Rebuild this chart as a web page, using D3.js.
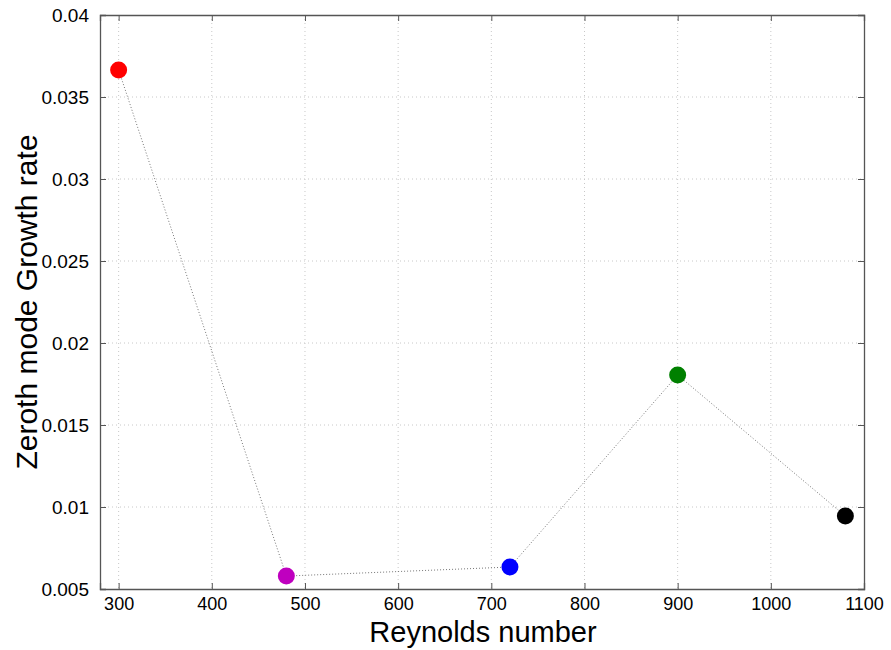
<!DOCTYPE html>
<html><head><meta charset="utf-8">
<script src="https://cdn.jsdelivr.net/npm/d3@7"></script>
<style>body{margin:0;background:#fff}svg{display:block}text{font-family:"Liberation Sans",Arial,sans-serif;fill:#000}</style>
</head><body><svg id="c" width="891" height="650"></svg>
<script>
const reynolds = [300, 480, 720, 900, 1080];
const growth = [0.03665, 0.00579, 0.00634, 0.01805, 0.00945];
const colors = ["#ff0000", "#bf00bf", "#0000ff", "#008000", "#000000"];
const xTicks = [300, 400, 500, 600, 700, 800, 900, 1000, 1100];
const yTicks = [0.005, 0.01, 0.015, 0.02, 0.025, 0.03, 0.035, 0.04];
const yTickLabels = ["0.005", "0.01", "0.015", "0.02", "0.025", "0.03", "0.035", "0.04"];

const svg = d3.select("#c");
const L = 100, R = 864, T = 15, B = 589;
const x = d3.scaleLinear().domain([280, 1100]).range([L, R]);
const y = d3.scaleLinear().domain([0.005, 0.04]).range([B, T]);

// grid
const g = svg.append("g");
g.selectAll(".vg").data(xTicks.filter(d => d < 1100)).enter().append("line")
  .attr("x1", d => x(d)).attr("x2", d => x(d)).attr("y1", T).attr("y2", B)
  .attr("stroke", "#c8c8c8").attr("stroke-width", 1).attr("stroke-dasharray", "1,3");
g.selectAll(".hg").data(yTicks.filter(d => d > 0.005 && d < 0.04)).enter().append("line")
  .attr("y1", d => y(d)).attr("y2", d => y(d)).attr("x1", L).attr("x2", R)
  .attr("stroke", "#c8c8c8").attr("stroke-width", 1).attr("stroke-dasharray", "1,3");

// axes
const ax = svg.append("g").attr("transform", `translate(0,${B})`)
  .call(d3.axisBottom(x).tickValues(xTicks).tickSize(-6).tickPadding(8).tickFormat(d3.format("d")));
const axT = svg.append("g").attr("transform", `translate(0,${T})`)
  .call(d3.axisTop(x).tickValues(xTicks).tickSize(-6).tickFormat(""));
const ay = svg.append("g").attr("transform", `translate(${L},0)`)
  .call(d3.axisLeft(y).tickValues(yTicks).tickSize(-6).tickPadding(10).tickFormat((d, i) => yTickLabels[i]));
const ayR = svg.append("g").attr("transform", `translate(${R},0)`)
  .call(d3.axisRight(y).tickValues(yTicks).tickSize(-6).tickFormat(""));
[ax, axT, ay, ayR].forEach(a => {
  a.select(".domain").attr("stroke", "#555").attr("stroke-width", 1.3);
  a.selectAll(".tick line").attr("stroke", "#555").attr("stroke-width", 1);
  a.selectAll(".tick text").style("font-size", "18px").style("font-family", "'Liberation Sans',Arial,sans-serif").attr("fill", "#111");
});
ay.selectAll(".tick text").style("font-size", "19px").attr("dx", "-1");

// line
svg.append("path")
  .datum(reynolds.map((r, i) => [r, growth[i]]))
  .attr("d", d3.line().x(d => x(d[0])).y(d => y(d[1])))
  .attr("fill", "none").attr("stroke", "#777").attr("stroke-width", 1).attr("stroke-dasharray", "1,2");

// points
svg.selectAll(".pt").data(reynolds).enter().append("circle")
  .attr("cx", d => x(d)).attr("cy", (d, i) => y(growth[i])).attr("r", 8.5)
  .attr("fill", (d, i) => colors[i]);

// labels
svg.append("text").attr("x", (L + R) / 2 + 1).attr("y", 642).attr("text-anchor", "middle")
  .style("font-size", "29px").text("Reynolds number");
svg.append("text").attr("transform", `translate(37,${(T + B) / 2}) rotate(-90)`).attr("text-anchor", "middle")
  .style("font-size", "30px").text("Zeroth mode Growth rate");
</script></body></html>
